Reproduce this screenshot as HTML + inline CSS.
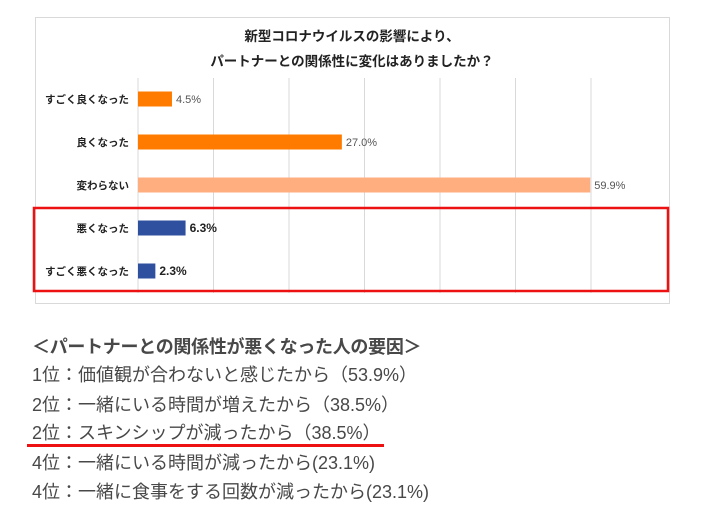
<!DOCTYPE html>
<html><head><meta charset="utf-8"><style>
body{margin:0;width:718px;height:518px;background:#fff;overflow:hidden;position:relative;font-family:"Liberation Sans","Noto Sans CJK JP",sans-serif}
.t{position:absolute;left:32px;font-size:18px;color:#484848;white-space:nowrap;line-height:20px}
</style></head><body>
<svg width="718" height="320" style="position:absolute;left:0;top:0" id="chart" font-family="Liberation Sans, Noto Sans CJK JP, sans-serif">
<rect x="35.5" y="17.5" width="634" height="286" fill="#fff" stroke="#d9d9d9"/>
<text x="352" y="41" text-anchor="middle" font-size="13.5" font-weight="bold" fill="#222">新型コロナウイルスの影響により、</text>
<text x="352" y="66" text-anchor="middle" font-size="13.5" font-weight="bold" fill="#222">パートナーとの関係性に変化はありましたか？</text>
<g id="grid"></g><g id="bars"></g>
<rect x="34" y="208" width="634" height="83" fill="none" stroke="#ee1111" stroke-width="2.5"/>
</svg>
<div class="t" style="top:337px;font-weight:bold;letter-spacing:-0.3px">＜パートナーとの関係性が悪くなった人の要因＞</div>
<div class="t" style="top:365px">1位：価値観が合わないと感じたから（53.9%）</div>
<div class="t" style="top:395px">2位：一緒にいる時間が増えたから（38.5%）</div>
<div class="t" style="top:423px">2位：スキンシップが減ったから（38.5%）</div>
<div style="position:absolute;left:27px;top:444px;width:357px;height:3px;background:#ee1111"></div>
<div class="t" style="top:453px">4位：一緒にいる時間が減ったから(23.1%)</div>
<div class="t" style="top:482px">4位：一緒に食事をする回数が減ったから(23.1%)</div>
<script>
const categories=["すごく良くなった","良くなった","変わらない","悪くなった","すごく悪くなった"];
const values=[4.5,27.0,59.9,6.3,2.3];
const colors=["#ff7b00","#ff7b00","#ffae80","#2f4f9f","#2f4f9f"];
const ticks=[0,10,20,30,40,50,60];
const NS="http://www.w3.org/2000/svg";
const x=v=>138+v*7.55;
const yc=i=>99+i*43;
const g=document.getElementById('grid'),b=document.getElementById('bars');
function mk(t,a,p){const e=document.createElementNS(NS,t);for(const k in a)e.setAttribute(k,a[k]);p.appendChild(e);return e;}
ticks.forEach(t=>{const l=mk('line',{x1:x(t),x2:x(t),y1:78,y2:293,stroke:'#d9d9d9'},g);

});
categories.forEach((c,i)=>{
const r=mk('rect',{x:x(0),y:yc(i)-7.5,width:x(values[i])-x(0),height:15,fill:colors[i]},b);


const lb=mk('text',{x:129,y:yc(i)+4,'text-anchor':'end','font-size':10.5,'font-weight':'bold',fill:'#222'},b);
lb.textContent=c;


const bold=i>=3;
const vl=mk('text',{x:x(values[i])+4,y:yc(i)+4,'font-size':bold?12:11,'font-weight':bold?'bold':'normal',fill:bold?'#222':'#555'},b);
vl.textContent=values[i].toFixed(1)+'%';


});
</script>
</body></html>
